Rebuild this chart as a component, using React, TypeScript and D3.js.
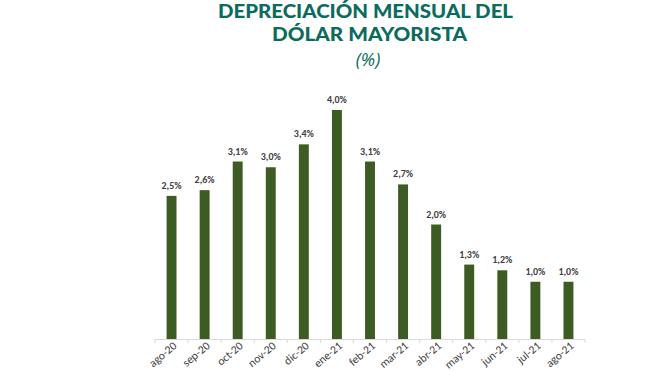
import React from 'react';
import * as d3 from 'd3';

const months = ['ago-20', 'sep-20', 'oct-20', 'nov-20', 'dic-20', 'ene-21', 'feb-21', 'mar-21', 'abr-21', 'may-21', 'jun-21', 'jul-21', 'ago-21'];
const depreciation = [2.5, 2.6, 3.1, 3.0, 3.4, 4.0, 3.1, 2.7, 2.0, 1.3, 1.2, 1.0, 1.0];
const titleLines = ['DEPRECIACIÓN MENSUAL DEL', 'DÓLAR MAYORISTA'];
const subtitle = '(%)';

const W = 660;
const H = 371;

export default function App() {
    const x = d3.scaleBand<string>()
        .domain(months)
        .range([155, 585])
        .paddingInner(0.7)
        .paddingOuter(0.35);

    const y = d3.scaleLinear()
        .domain([0, 4])
        .range([339, 110]);

    const fmt = (v: number) => v.toFixed(1).replace('.', ',') + '%';

    return (
        <svg width={W} height={H} style={{ position: 'absolute', left: 0, top: 0, background: '#fff' }}>
            <g fontFamily="Lato, 'DejaVu Sans', sans-serif" fontWeight={900} fill="#0b6b5e" textAnchor="middle">
                <text x={365.5} y={17.5} fontSize={19} textLength={295} lengthAdjust="spacingAndGlyphs">{titleLines[0]}</text>
                <text x={369.5} y={40.5} fontSize={19} textLength={195} lengthAdjust="spacingAndGlyphs">{titleLines[1]}</text>
            </g>
            <text x={368} y={66} fontFamily="'Open Sans', sans-serif" fontStyle="italic" fontSize={18} fill="#0b6b5e" textAnchor="middle">{subtitle}</text>

            <line x1={155} x2={585} y1={339.5} y2={339.5} stroke="#d9d9d9" />
            {months.map((m, i) => (
                <line key={'t' + i} x1={155 + i * 33.08} x2={155 + i * 33.08} y1={339.5} y2={343} stroke="#d9d9d9" />
            ))}
            <line x1={585} x2={585} y1={339.5} y2={343} stroke="#d9d9d9" />

            {months.map((m, i) => (
                <rect key={m + i} x={x(m)} y={y(depreciation[i])} width={x.bandwidth()} height={339 - y(depreciation[i])} fill="#3d5c24" />
            ))}

            {months.map((m, i) => (
                <text key={'v' + i} x={(x(m) as number) + x.bandwidth() / 2} y={y(depreciation[i]) - 7}
                    fontFamily="Calibri, Carlito, 'Liberation Sans', sans-serif" fontWeight="bold" fontSize={10}
                    fill="#404040" textAnchor="middle">{fmt(depreciation[i])}</text>
            ))}

            {months.map((m, i) => {
                const cx = (x(m) as number) + x.bandwidth() / 2 + 6;
                return (
                    <text key={'l' + i} transform={`translate(${cx},${347}) rotate(-40)`}
                        fontFamily="Calibri, Carlito, 'Liberation Sans', sans-serif" fontSize={11.5}
                        fill="#404040" textAnchor="end">{m}</text>
                );
            })}
        </svg>
    );
}
